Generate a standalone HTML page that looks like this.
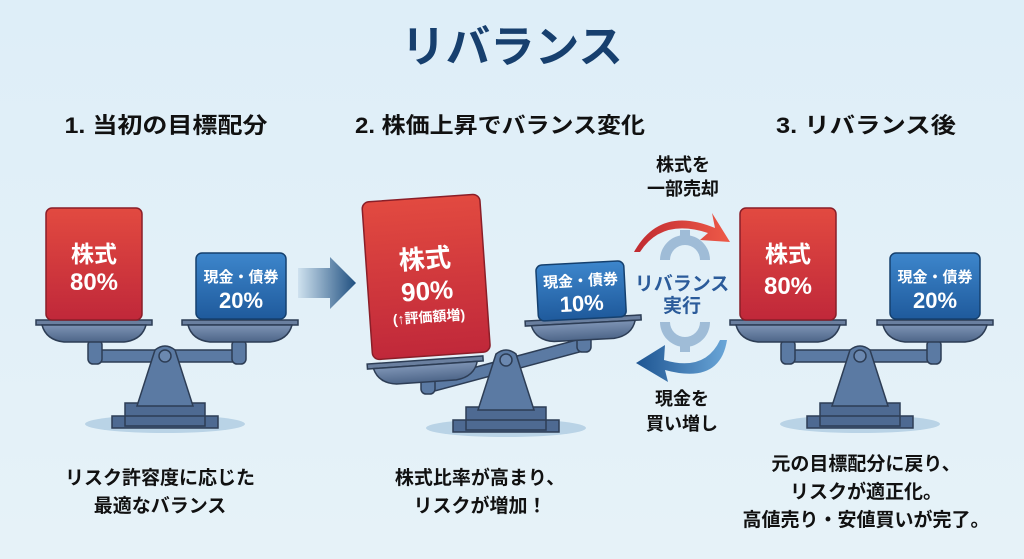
<!DOCTYPE html>
<html><head><meta charset="utf-8"><style>
html,body{margin:0;padding:0;width:1024px;height:559px;overflow:hidden;background:#e2f0f8}
svg{display:block}
text{font-family:"Liberation Sans","Noto Sans CJK JP",sans-serif;font-weight:bold}
</style></head><body>
<svg width="1024" height="559" viewBox="0 0 1024 559" xmlns="http://www.w3.org/2000/svg">
<defs>
<linearGradient id="bg" x1="0" y1="0" x2="0" y2="1"><stop offset="0" stop-color="#deeef8"/><stop offset="1" stop-color="#e6f2f8"/></linearGradient>
<linearGradient id="red" x1="0" y1="0" x2="0" y2="1"><stop offset="0" stop-color="#e24a40"/><stop offset="1" stop-color="#c0283a"/></linearGradient>
<linearGradient id="blue" x1="0" y1="0" x2="0" y2="1"><stop offset="0" stop-color="#3d86cc"/><stop offset="1" stop-color="#1f5a9c"/></linearGradient>
<linearGradient id="steel" x1="0" y1="0" x2="0" y2="1"><stop offset="0" stop-color="#7d93b4"/><stop offset="1" stop-color="#4d6588"/></linearGradient>
<linearGradient id="arr" x1="0" y1="0" x2="1" y2="0"><stop offset="0" stop-color="#cfe2ef"/><stop offset="1" stop-color="#1f4f80"/></linearGradient>
<linearGradient id="ra" x1="0" y1="0" x2="1" y2="0"><stop offset="0" stop-color="#c02a30"/><stop offset="1" stop-color="#ee5a48"/></linearGradient>
<linearGradient id="ba" x1="1" y1="0" x2="0" y2="0"><stop offset="0" stop-color="#6aa6d8"/><stop offset="1" stop-color="#1e5592"/></linearGradient>
<g id="pan"><path d="M-58,0 H58 V5 H-58 Z" fill="#6a7f9f" stroke="#2d3d55" stroke-width="1.5"/><path d="M-52,5 H52 Q48,20 30,22 H-30 Q-48,20 -52,5 Z" fill="url(#steel)" stroke="#2d3d55" stroke-width="1.5"/></g>
<g id="stand"><ellipse cx="0" cy="66" rx="80" ry="9" fill="#b9d3e6"/><path d="M-40,45 H40 V68 H-40 Z M-53,58 H53 V70 H-53 Z" fill="#4e6a92" stroke="#2d3d55" stroke-width="1.5"/><path d="M-10,-8 Q0,-16 10,-8 L28,48 H-28 Z" fill="#5b7aa3" stroke="#2d3d55" stroke-width="1.5"/><circle cx="0" cy="-2" r="6" fill="#6b88b0" stroke="#2d3d55" stroke-width="1.5"/></g>
</defs>
<rect width="1024" height="559" fill="url(#bg)"/>
<text x="512" y="62" text-anchor="middle" font-size="44" fill="#173f6e" textLength="222" lengthAdjust="spacingAndGlyphs">リバランス</text>
<g font-size="22" fill="#111">
<text x="166" y="133" text-anchor="middle" textLength="203" lengthAdjust="spacingAndGlyphs">1. 当初の目標配分</text>
<text x="500" y="133" text-anchor="middle" textLength="290" lengthAdjust="spacingAndGlyphs">2. 株価上昇でバランス変化</text>
<text x="866" y="133" text-anchor="middle" textLength="180" lengthAdjust="spacingAndGlyphs">3. リバランス後</text>
</g>

<!-- scale 1 -->
<g>
<path d="M95,350 L240,350 L240,362 L95,362 Z" fill="#5b7aa3" stroke="#2d3d55" stroke-width="1.5"/>
<rect x="88" y="340" width="14" height="24" rx="5" fill="#5b7aa3" stroke="#2d3d55" stroke-width="1.5"/>
<rect x="232" y="340" width="14" height="24" rx="5" fill="#5b7aa3" stroke="#2d3d55" stroke-width="1.5"/>
<use href="#stand" x="165" y="358"/>
<use href="#pan" x="94" y="320"/><use href="#pan" x="240" y="320"/>
<rect x="46" y="208" width="96" height="112" rx="6" fill="url(#red)" stroke="#8a1e28" stroke-width="1.5"/>
<text x="94" y="262" text-anchor="middle" font-size="23" fill="#fff">株式</text>
<text x="94" y="290" text-anchor="middle" font-size="24" fill="#fff">80%</text>
<rect x="196" y="253" width="90" height="66" rx="6" fill="url(#blue)" stroke="#15406e" stroke-width="1.5"/>
<text x="241" y="282" text-anchor="middle" font-size="15" fill="#fff">現金・債券</text>
<text x="241" y="308" text-anchor="middle" font-size="22" fill="#fff">20%</text>
</g>
<path d="M298,268 H330 V257 L356,283 L330,309 V298 H298 Z" fill="url(#arr)"/>

<!-- scale 2 -->
<g>
<path d="M428,380 L584,338 L587,350 L431,392 Z" fill="#5b7aa3" stroke="#2d3d55" stroke-width="1.5"/>
<rect x="421" y="370" width="14" height="24" rx="5" fill="#5b7aa3" stroke="#2d3d55" stroke-width="1.5"/>
<rect x="577" y="330" width="14" height="22" rx="5" fill="#5b7aa3" stroke="#2d3d55" stroke-width="1.5"/>
<use href="#stand" x="506" y="362"/>
<g transform="translate(425,360) rotate(-4)"><use href="#pan"/></g>
<g transform="translate(583,318) rotate(-3)"><use href="#pan"/></g>
<g transform="rotate(-4 425 275)">
<rect x="367" y="198" width="118" height="158" rx="7" fill="url(#red)" stroke="#8a1e28" stroke-width="1.5"/>
<text x="426" y="268" text-anchor="middle" font-size="26" fill="#fff">株式</text>
<text x="426" y="300" text-anchor="middle" font-size="26" fill="#fff">90%</text>
<text x="426" y="322" text-anchor="middle" font-size="14" fill="#fff">(↑評価額増)</text>
</g>
<g transform="rotate(-3 580 290)">
<rect x="537" y="263" width="88" height="56" rx="6" fill="url(#blue)" stroke="#15406e" stroke-width="1.5"/>
<text x="581" y="286" text-anchor="middle" font-size="15" fill="#fff">現金・債券</text>
<text x="581" y="311" text-anchor="middle" font-size="22" fill="#fff">10%</text>
</g>
</g>

<!-- middle -->
<text x="683" y="171" text-anchor="middle" font-size="18" fill="#111">株式を</text>
<text x="683" y="195" text-anchor="middle" font-size="18" fill="#111">一部売却</text>
<path d="M634,252 Q660,205 715,228 L712,213 L730,242 L700,240 L708,233 Q662,218 640,252 Z" fill="url(#ra)"/>
<g fill="#8fb0d0" opacity="0.8">
<path d="M660,260 A25,25 0 0 1 710,260 L700,260 A15,15 0 0 0 670,260 Z"/>
<rect x="680" y="230" width="10" height="10"/>
<path d="M660,322 A25,25 0 0 0 710,322 L700,322 A15,15 0 0 1 670,322 Z"/>
<rect x="680" y="342" width="10" height="10"/>
</g>
<text x="682" y="290" text-anchor="middle" font-size="19" fill="#2b5b9a">リバランス</text>
<text x="682" y="312" text-anchor="middle" font-size="19" fill="#2b5b9a">実行</text>
<path d="M727,340 Q720,385 665,370 L668,382 L636,363 L665,345 L664,360 Q705,372 720,340 Z" fill="url(#ba)"/>
<text x="682" y="405" text-anchor="middle" font-size="18" fill="#111">現金を</text>
<text x="682" y="430" text-anchor="middle" font-size="18" fill="#111">買い増し</text>

<!-- scale 3 -->
<g>
<path d="M788,350 L935,350 L935,362 L788,362 Z" fill="#5b7aa3" stroke="#2d3d55" stroke-width="1.5"/>
<rect x="781" y="340" width="14" height="24" rx="5" fill="#5b7aa3" stroke="#2d3d55" stroke-width="1.5"/>
<rect x="927" y="340" width="14" height="24" rx="5" fill="#5b7aa3" stroke="#2d3d55" stroke-width="1.5"/>
<use href="#stand" x="860" y="358"/>
<use href="#pan" x="788" y="320"/><use href="#pan" x="935" y="320"/>
<rect x="740" y="208" width="96" height="112" rx="6" fill="url(#red)" stroke="#8a1e28" stroke-width="1.5"/>
<text x="788" y="262" text-anchor="middle" font-size="23" fill="#fff">株式</text>
<text x="788" y="294" text-anchor="middle" font-size="24" fill="#fff">80%</text>
<rect x="890" y="253" width="90" height="66" rx="6" fill="url(#blue)" stroke="#15406e" stroke-width="1.5"/>
<text x="935" y="282" text-anchor="middle" font-size="15" fill="#fff">現金・債券</text>
<text x="935" y="308" text-anchor="middle" font-size="22" fill="#fff">20%</text>
</g>

<g font-size="19" fill="#111" text-anchor="middle">
<text x="160" y="484">リスク許容度に応じた</text>
<text x="160" y="512">最適なバランス</text>
<text x="480" y="484">株式比率が高まり、</text>
<text x="480" y="512">リスクが増加！</text>
<text x="866" y="470">元の目標配分に戻り、</text>
<text x="866" y="498">リスクが適正化。</text>
<text x="866" y="526">高値売り・安値買いが完了。</text>
</g>
</svg>
</body></html>
